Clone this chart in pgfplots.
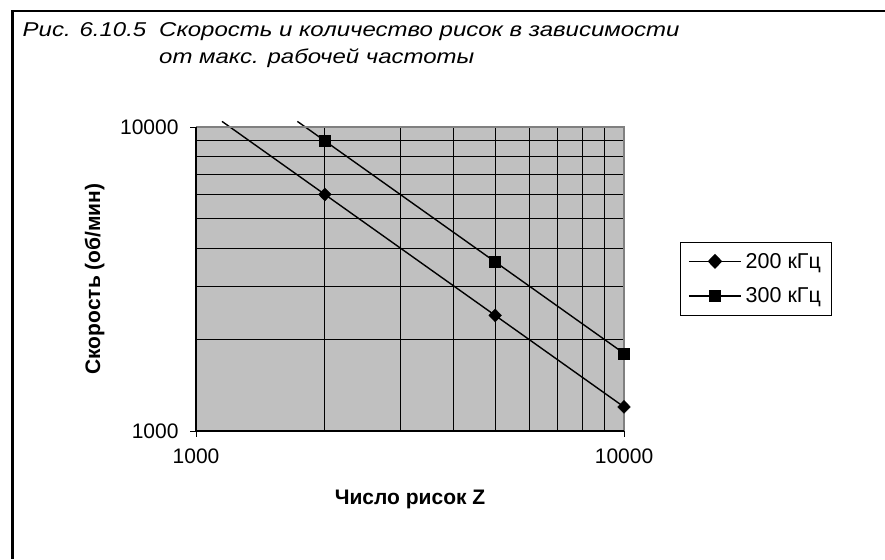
\documentclass[border=0pt]{standalone}
\usepackage{pgfplots}
\pgfplotsset{compat=1.18}
\usepackage{fontspec}
\setmainfont{Liberation Sans}
\newfontfamily\titlefont[FakeStretch=1.2]{Liberation Sans}
\begin{document}
\begin{tikzpicture}
\path[use as bounding box] (0pt,0pt) rectangle (885pt,-559pt);
\draw[line width=2.5pt] (12.5pt,-559pt) -- (12.5pt,-11pt) -- (885pt,-11pt);
\node[anchor=base west,inner sep=0pt,font=\fontsize{20}{22}\titlefont\itshape] at (22.5pt,-37pt) {Рис. 6.10.5};
\node[anchor=base west,inner sep=0pt,font=\fontsize{20}{22}\titlefont\itshape] at (159pt,-37pt) {Скорость и количество рисок в зависимости};
\node[anchor=base west,inner sep=0pt,font=\fontsize{20}{22}\titlefont\itshape] at (159pt,-64pt) {от макс. рабочей частоты};
\begin{axis}[
  at={(196pt,-431pt)}, anchor=south west,
  scale only axis, width=428pt, height=304pt,
  xmode=log, ymode=log,
  xmin=1000, xmax=10000, ymin=1000, ymax=10000,
  clip=false,
  log ticks with fixed point,
  /pgf/number format/1000 sep={},
  /pgf/number format/assume math mode=true,
  xtick={1000,10000}, ytick={1000,10000},
  minor xtick={2000,3000,4000,5000,6000,7000,8000,9000},
  minor ytick={2000,3000,4000,5000,6000,7000,8000,9000},
  xminorgrids=true, yminorgrids=true,
  minor grid style={black, line width=0.9pt},
  minor tick length=0pt,
  major tick length=6pt,
  tick align=outside,
  xtick pos=bottom, ytick pos=left,
  tick style={black, line width=0.9pt},
  axis background/.style={fill={rgb,255:red,192;green,192;blue,192}},
  axis line style={draw=none},
  ticklabel style={font=\fontsize{21}{24}\selectfont},
  xticklabel style={yshift=-8pt},
  yticklabel style={xshift=-8pt},
  xlabel={\textbf{Число рисок Z}},
  ylabel={\textbf{Скорость (об/мин)}},
  every axis x label/.style={at={(rel axis cs:0.5,0)}, anchor=base, yshift=-74pt, font=\fontsize{21}{24}\selectfont},
  every axis y label/.style={at={(rel axis cs:0,0.5)}, xshift=-96pt, anchor=base, rotate=90, font=\fontsize{21}{24}\selectfont},
  legend style={at={(1.131,0.622)}, anchor=north west, draw=black, fill=white,
    font=\fontsize{21.5}{24}\selectfont, row sep=14pt, inner xsep=8pt, inner ysep=9pt},
  legend cell align=left,
  legend image code/.code={\draw[mark repeat=2,mark phase=2] plot coordinates {(0pt,0pt)(26pt,0pt)(52pt,0pt)};},
]
\addlegendimage{black, line width=1.4pt, mark=diamond*, mark size=6.5pt, mark options={xscale=1.3}}
\addlegendentry{\hspace{2pt}200 кГц\hspace{4pt}}
\addlegendimage{black, line width=1.4pt, mark=square*, mark size=5.5pt}
\addlegendentry{\hspace{2pt}300 кГц\hspace{4pt}}
\addplot[black, line width=1.4pt, no marks, forget plot]
  coordinates {(1150,10435) (2000,6000) (5000,2400) (10000,1200)};
\addplot[black, mark=diamond*, mark size=6.5pt, mark options={xscale=1.3}, only marks, forget plot]
  coordinates {(2000,6000) (5000,2400) (10000,1200)};
\addplot[black, line width=1.4pt, no marks, forget plot]
  coordinates {(1725,10435) (2000,9000) (5000,3600) (10000,1800)};
\addplot[black, mark=square*, mark size=5.5pt, only marks, forget plot]
  coordinates {(2000,9000) (5000,3600) (10000,1800)};
\draw[gray, line width=1.5pt] (rel axis cs:0,1) -- (rel axis cs:1,1) -- (rel axis cs:1,0);
\draw[black, line width=1.2pt] (rel axis cs:0,1) -- (rel axis cs:0,0) -- (rel axis cs:1,0);
\end{axis}
\end{tikzpicture}
\end{document}
